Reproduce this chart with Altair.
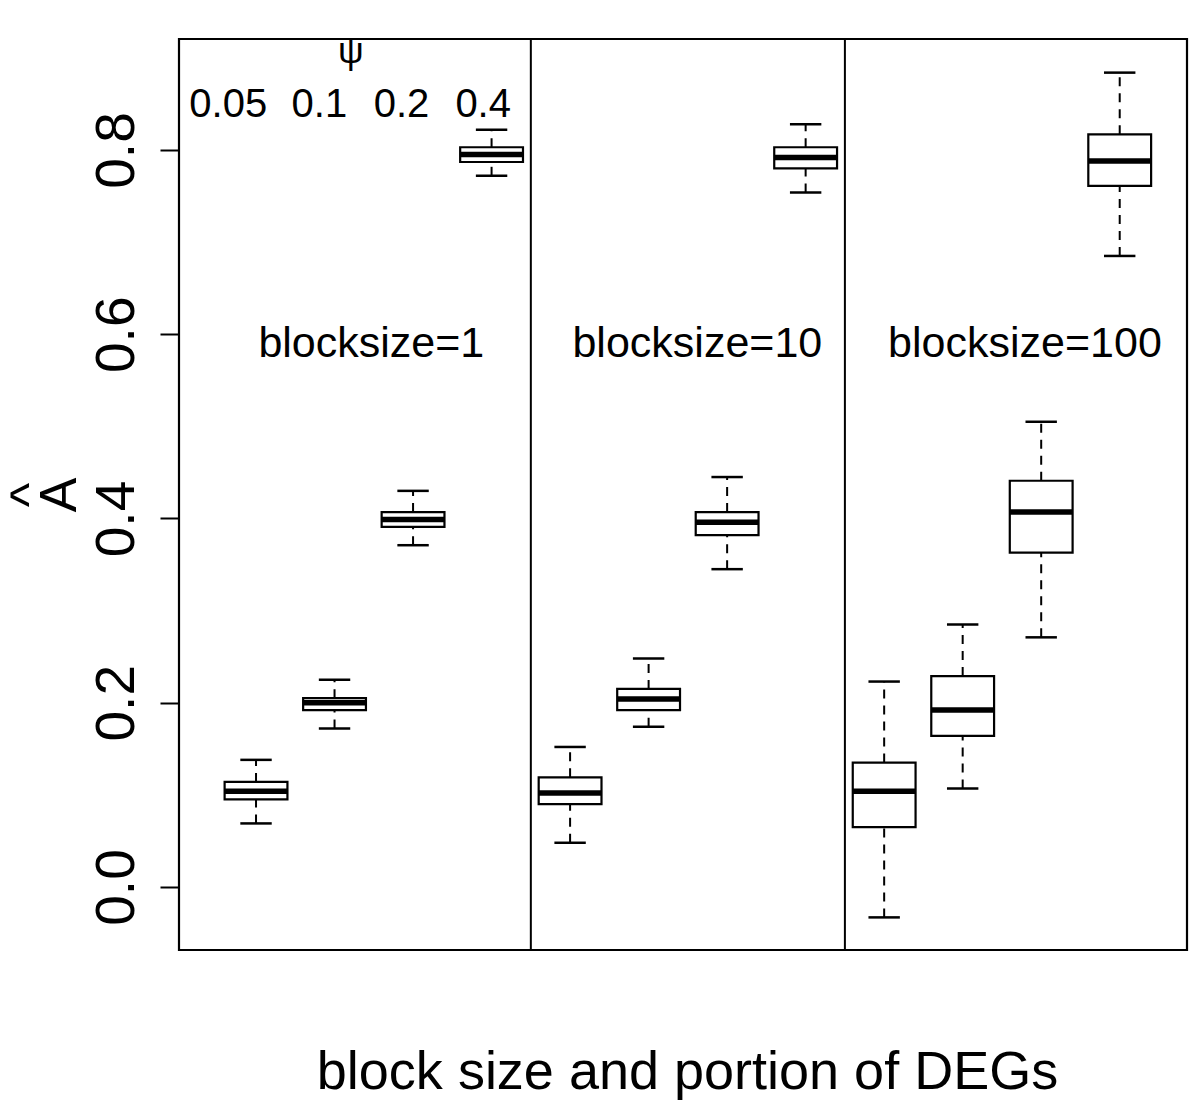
import altair as alt
import pandas as pd

# ---- data ----
positions = list(range(1, 13))
whisker_hi = [0.138, 0.225, 0.430, 0.822, 0.152, 0.248, 0.445, 0.828, 0.223, 0.285, 0.505, 0.884]
q3_vals    = [0.114, 0.205, 0.407, 0.803, 0.119, 0.215, 0.407, 0.803, 0.135, 0.229, 0.441, 0.817]
medians    = [0.104, 0.200, 0.399, 0.795, 0.102, 0.204, 0.396, 0.792, 0.104, 0.192, 0.407, 0.788]
q1_vals    = [0.095, 0.192, 0.391, 0.787, 0.090, 0.192, 0.382, 0.780, 0.065, 0.164, 0.363, 0.761]
whisker_lo = [0.069, 0.172, 0.371, 0.772, 0.048, 0.174, 0.345, 0.754, -0.033, 0.107, 0.271, 0.685]

separator_x = [4.5, 8.5]

psi_labels = ["0.05", "0.1", "0.2", "0.4"]
psi_label_x = [0.646, 1.807, 2.853, 3.893]
psi_label_y = [0.8355] * 4
psi_symbol = ["ψ"]
psi_symbol_x = [2.207]
psi_symbol_y = [0.8948]

block_labels = ["blocksize=1", "blocksize=10", "blocksize=100"]
block_x = [1.03, 5.03, 9.05]
block_y = [0.5753] * 3

y_ticks = [0.0, 0.2, 0.4, 0.6, 0.8]

FONT = "Liberation Sans"
W, H = 1008, 911

xs = alt.Scale(domain=[0.019, 12.857], nice=False, zero=False)
ys = alt.Scale(domain=[-0.0684, 0.9205], nice=False, zero=False)

xaxis = alt.Axis(
    title="block size and portion of DEGs", labels=False, ticks=False, domain=False, grid=False,
    titleFontSize=54, titleFont=FONT, titleFontWeight="normal", titleColor="black",
    titleX=508, titleY=138, titleBaseline="alphabetic", titleAlign="center",
)
yaxis = alt.Axis(
    title=["^", "A"], values=y_ticks, format=".1f", grid=False, domain=False,
    tickSize=19, tickWidth=2, tickColor="black",
    labelFontSize=55, labelFont=FONT, labelColor="black", labelAngle=270,
    labelAlign="center", labelBaseline="alphabetic", labelPadding=27,
    labelFlush=False, labelOverlap=False,
    titleFontSize=52, titleFont=FONT, titleFontWeight="normal", titleColor="black",
    titleAngle=270, titleX=-134, titleY=455.5, titleAlign="center",
    titleBaseline="alphabetic", titleLineHeight=30,
)


def X(f):
    return alt.X(f, type="quantitative", scale=xs, axis=xaxis)


def Y(f):
    return alt.Y(f, type="quantitative", scale=ys, axis=yaxis)


df = pd.DataFrame(dict(pos=positions, wlo=whisker_lo, q1=q1_vals, med=medians,
                       q3=q3_vals, whi=whisker_hi))

base = alt.Chart(df).transform_calculate(
    bl="datum.pos - 0.4", br="datum.pos + 0.4",
    cl="datum.pos - 0.2", cr="datum.pos + 0.2",
)

dash = [9, 7]
upper_w = base.mark_rule(color="black", strokeWidth=2, strokeDash=dash).encode(
    x=X("pos"), y=Y("q3"), y2="whi")
lower_w = base.mark_rule(color="black", strokeWidth=2, strokeDash=dash).encode(
    x=X("pos"), y=Y("wlo"), y2="q1")
cap_hi = base.mark_rule(color="black", strokeWidth=2.5).encode(
    x=X("cl"), x2="cr", y=Y("whi"))
cap_lo = base.mark_rule(color="black", strokeWidth=2.5).encode(
    x=X("cl"), x2="cr", y=Y("wlo"))
boxes = base.mark_rect(fill="white", stroke="black", strokeWidth=2.2).encode(
    x=X("bl"), x2="br", y=Y("q1"), y2="q3")
med_rule = base.mark_rule(color="black", strokeWidth=5.5).encode(
    x=X("bl"), x2="br", y=Y("med"))

seps = alt.Chart(pd.DataFrame({"sx": separator_x})).mark_rule(
    color="black", strokeWidth=2).encode(x=X("sx"))

frame = alt.Chart(pd.DataFrame({"k": [0]})).mark_rect(
    fill=None, stroke="black", strokeWidth=2.2
).encode(x=alt.value(0), x2=alt.value(W), y=alt.value(0), y2=alt.value(H))

psi_df = pd.DataFrame({"x": psi_label_x, "y": psi_label_y, "t": psi_labels})
psi_text = alt.Chart(psi_df).mark_text(
    font=FONT, fontSize=40, color="black", align="center", baseline="alphabetic"
).encode(x=X("x"), y=Y("y"), text="t:N")

sym_df = pd.DataFrame({"x": psi_symbol_x, "y": psi_symbol_y, "t": psi_symbol})
sym_text = alt.Chart(sym_df).mark_text(
    font=FONT, fontSize=36, color="black", align="center", baseline="alphabetic"
).encode(x=X("x"), y=Y("y"), text="t:N")

blk_df = pd.DataFrame({"x": block_x, "y": block_y, "t": block_labels})
blk_text = alt.Chart(blk_df).mark_text(
    font=FONT, fontSize=43, color="black", align="left", baseline="alphabetic"
).encode(x=X("x"), y=Y("y"), text="t:N")

chart = alt.layer(
    seps, upper_w, lower_w, cap_hi, cap_lo, boxes, med_rule, psi_text, sym_text, blk_text, frame
).properties(
    width=W, height=H,
    autosize=alt.AutoSizeParams(type="none"),
    padding={"left": 171, "top": 31, "right": 5, "bottom": 150},
).configure_view(
    strokeWidth=0, fill="white"
).configure(background="white")

chart.save("out.html", embed_options={"renderer": "svg", "actions": False})
